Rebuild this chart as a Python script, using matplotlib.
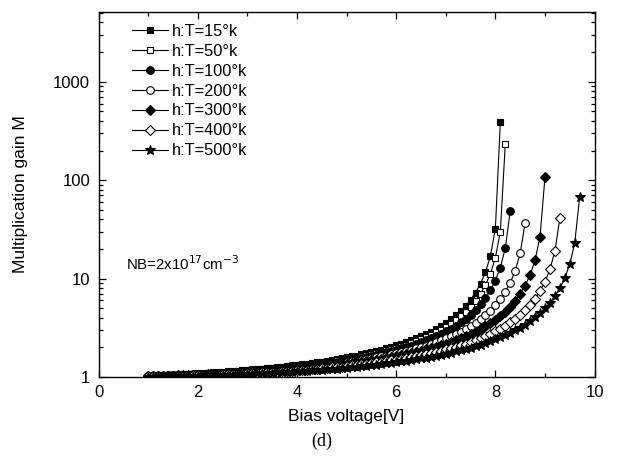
#!/usr/bin/env python3
"""Multiplication gain M versus bias voltage for several temperatures (panel d)."""

import matplotlib
matplotlib.use("Agg")
import matplotlib.pyplot as plt
import numpy as np
from matplotlib.ticker import FixedLocator, LogLocator, NullFormatter

plt.rcParams["font.family"] = ["Liberation Sans", "DejaVu Sans"]

# bias sweep: every curve starts at 1.0 V and is sampled every 0.1 V
V_START = 1.0
V_STEP = 0.1

labels = ["h:T=15°k", "h:T=50°k", "h:T=100°k", "h:T=200°k",
          "h:T=300°k", "h:T=400°k", "h:T=500°k"]

m15 = [1.029, 1.033, 1.038, 1.043, 1.049, 1.054, 1.060, 1.067, 1.073, 1.080,
       1.087, 1.095, 1.103, 1.111, 1.120, 1.129, 1.138, 1.148, 1.158, 1.169,
       1.180, 1.192, 1.204, 1.217, 1.230, 1.245, 1.259, 1.275, 1.292, 1.309,
       1.327, 1.347, 1.367, 1.388, 1.411, 1.435, 1.461, 1.488, 1.517, 1.548,
       1.580, 1.616, 1.653, 1.694, 1.738, 1.785, 1.836, 1.891, 1.952, 2.017,
       2.090, 2.170, 2.258, 2.356, 2.466, 2.590, 2.730, 2.891, 3.076, 3.293,
       3.548, 3.855, 4.229, 4.697, 5.297, 6.094, 7.205, 8.861, 11.59, 16.94,
       32.11, 390.0]

m50 = [1.025, 1.029, 1.033, 1.038, 1.043, 1.048, 1.053, 1.059, 1.065, 1.071,
       1.078, 1.084, 1.092, 1.099, 1.107, 1.115, 1.124, 1.133, 1.142, 1.152,
       1.163, 1.173, 1.185, 1.197, 1.209, 1.222, 1.236, 1.251, 1.266, 1.282,
       1.299, 1.316, 1.335, 1.355, 1.376, 1.398, 1.421, 1.446, 1.473, 1.501,
       1.531, 1.563, 1.597, 1.634, 1.674, 1.716, 1.762, 1.812, 1.866, 1.925,
       1.990, 2.060, 2.138, 2.224, 2.320, 2.427, 2.548, 2.685, 2.842, 3.022,
       3.233, 3.482, 3.780, 4.143, 4.597, 5.178, 5.949, 7.020, 8.607, 11.21,
       16.23, 30.04, 234.0]

m100 = [1.022, 1.025, 1.029, 1.033, 1.038, 1.043, 1.048, 1.053, 1.058, 1.064,
        1.070, 1.076, 1.083, 1.090, 1.097, 1.105, 1.112, 1.121, 1.129, 1.139,
        1.148, 1.158, 1.168, 1.179, 1.191, 1.203, 1.215, 1.229, 1.243, 1.257,
        1.273, 1.289, 1.306, 1.324, 1.343, 1.363, 1.384, 1.407, 1.431, 1.456,
        1.483, 1.512, 1.542, 1.575, 1.610, 1.648, 1.689, 1.733, 1.780, 1.831,
        1.887, 1.948, 2.014, 2.088, 2.169, 2.258, 2.359, 2.471, 2.598, 2.742,
        2.908, 3.100, 3.325, 3.593, 3.917, 4.315, 4.817, 5.470, 6.352, 7.611,
        9.554, 12.94, 20.32, 49.0]

m200 = [1.018, 1.022, 1.025, 1.029, 1.032, 1.037, 1.041, 1.045, 1.050, 1.055,
        1.060, 1.066, 1.072, 1.078, 1.084, 1.091, 1.098, 1.105, 1.112, 1.120,
        1.129, 1.137, 1.146, 1.156, 1.166, 1.176, 1.187, 1.199, 1.211, 1.223,
        1.236, 1.250, 1.265, 1.280, 1.296, 1.313, 1.331, 1.350, 1.370, 1.391,
        1.414, 1.437, 1.462, 1.489, 1.518, 1.548, 1.581, 1.616, 1.653, 1.693,
        1.737, 1.784, 1.834, 1.890, 1.950, 2.015, 2.088, 2.167, 2.256, 2.354,
        2.464, 2.588, 2.730, 2.891, 3.078, 3.297, 3.556, 3.867, 4.249, 4.727,
        5.344, 6.169, 7.330, 9.086, 12.04, 18.05, 37.0]

m300 = [1.017, 1.019, 1.023, 1.026, 1.029, 1.033, 1.037, 1.041, 1.046, 1.050,
        1.055, 1.060, 1.065, 1.071, 1.076, 1.082, 1.088, 1.095, 1.102, 1.109,
        1.116, 1.124, 1.132, 1.141, 1.150, 1.159, 1.168, 1.179, 1.189, 1.200,
        1.212, 1.224, 1.237, 1.250, 1.264, 1.279, 1.294, 1.310, 1.327, 1.346,
        1.365, 1.385, 1.406, 1.428, 1.452, 1.477, 1.504, 1.533, 1.563, 1.596,
        1.631, 1.668, 1.708, 1.751, 1.798, 1.848, 1.903, 1.962, 2.027, 2.098,
        2.177, 2.264, 2.360, 2.468, 2.589, 2.726, 2.883, 3.064, 3.273, 3.521,
        3.817, 4.176, 4.622, 5.192, 5.940, 6.971, 8.479, 10.89, 15.39, 26.67,
        107.0]

m400 = [1.012, 1.014, 1.016, 1.019, 1.021, 1.024, 1.027, 1.031, 1.034, 1.038,
        1.041, 1.045, 1.050, 1.054, 1.059, 1.063, 1.068, 1.074, 1.079, 1.085,
        1.091, 1.097, 1.104, 1.111, 1.118, 1.126, 1.134, 1.142, 1.151, 1.160,
        1.169, 1.179, 1.189, 1.200, 1.212, 1.224, 1.236, 1.249, 1.263, 1.278,
        1.293, 1.309, 1.326, 1.344, 1.363, 1.383, 1.404, 1.426, 1.450, 1.476,
        1.503, 1.531, 1.562, 1.594, 1.630, 1.667, 1.708, 1.751, 1.798, 1.849,
        1.905, 1.966, 2.032, 2.105, 2.185, 2.275, 2.374, 2.485, 2.611, 2.754,
        2.918, 3.108, 3.330, 3.594, 3.911, 4.301, 4.791, 5.424, 6.274, 7.478,
        9.308, 12.43, 18.95, 41.0]

m500 = [1.009, 1.011, 1.013, 1.015, 1.017, 1.019, 1.022, 1.024, 1.027, 1.030,
        1.033, 1.037, 1.040, 1.044, 1.048, 1.052, 1.056, 1.060, 1.065, 1.070,
        1.075, 1.080, 1.086, 1.092, 1.098, 1.104, 1.111, 1.118, 1.125, 1.133,
        1.141, 1.149, 1.158, 1.167, 1.176, 1.186, 1.197, 1.208, 1.219, 1.231,
        1.244, 1.257, 1.271, 1.286, 1.301, 1.317, 1.335, 1.353, 1.372, 1.392,
        1.414, 1.437, 1.461, 1.486, 1.514, 1.543, 1.574, 1.607, 1.643, 1.682,
        1.723, 1.767, 1.816, 1.868, 1.925, 1.987, 2.056, 2.131, 2.214, 2.306,
        2.409, 2.524, 2.655, 2.804, 2.976, 3.175, 3.409, 3.689, 4.027, 4.445,
        4.976, 5.671, 6.618, 7.987, 10.14, 14.01, 23.04, 68.0]

gains = [m15, m50, m100, m200, m300, m400, m500]

# marker shape, filled?, size
styles = [("s", True, 5.0), ("s", False, 5.0), ("o", True, 5.5), ("o", False, 5.5),
          ("D", True, 4.6), ("D", False, 4.6), ("*", True, 7.0)]


def main() -> None:
    fig = plt.figure(figsize=(6.2, 4.66), dpi=100)
    ax = fig.add_axes([0.159, 0.191, 0.800, 0.783])

    for lab, m, (mk, filled, ms) in zip(labels, gains, styles):
        v = V_START + V_STEP * np.arange(len(m))
        ax.plot(v, m, color="black", lw=0.8, marker=mk, ms=ms,
                mfc="black" if filled else "white", mec="black", mew=0.8,
                label=lab)

    ax.set_yscale("log")
    ax.set_xlim(0, 10)
    ax.set_ylim(1, 5100)
    ax.set_xticks([0, 2, 4, 6, 8, 10])
    ax.xaxis.set_minor_locator(FixedLocator([1, 3, 5, 7, 9]))
    ax.set_yticks([1, 10, 100, 1000])
    ax.set_yticklabels(["1", "10", "100", "1000"])
    ax.yaxis.set_minor_locator(LogLocator(base=10, subs=np.arange(2, 10)))
    ax.yaxis.set_minor_formatter(NullFormatter())

    ax.tick_params(which="both", direction="in", top=True, right=True,
                   labelsize=12, width=0.9)
    ax.tick_params(which="major", length=5, pad=6)
    ax.tick_params(which="minor", length=3)
    for sp in ax.spines.values():
        sp.set_linewidth(1.0)

    ax.set_xlabel("Bias voltage[V]", fontsize=12.5, labelpad=6)
    ax.set_ylabel("Multiplication gain M", fontsize=12.5, labelpad=18)

    ax.text(0.055, 0.31, r"NB=2x10$^{17}$cm$^{-3}$", transform=ax.transAxes,
            fontsize=10.8, ha="left", va="center")

    ax.legend(loc="upper left", bbox_to_anchor=(0.048, 0.995), frameon=False,
              fontsize=11.8, handlelength=2.2, handletextpad=0.2,
              labelspacing=0.3, borderaxespad=0.2)

    fig.text(0.519, 0.053, "(d)", fontsize=13, ha="center", va="center",
             family=["Liberation Serif", "DejaVu Serif"])

    fig.savefig("out.png", dpi=100)
    plt.close(fig)


if __name__ == "__main__":
    main()
